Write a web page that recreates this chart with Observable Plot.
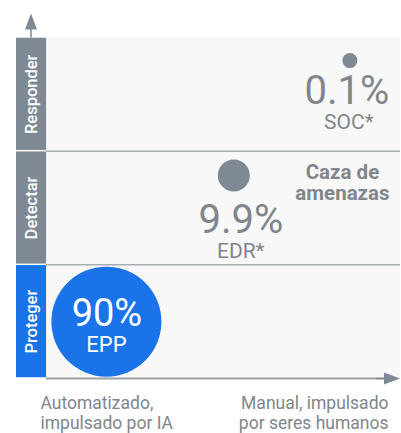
<!DOCTYPE html>
<html><head><meta charset="utf-8">
<script src="https://cdn.jsdelivr.net/npm/d3@7"></script>
<script src="https://cdn.jsdelivr.net/npm/@observablehq/plot@0.6"></script>
<style>
html,body{margin:0;padding:0;background:#fff;}
#chart svg{display:block;}
</style></head><body><div id="chart"></div>
<script>
// ---- data ----
const stages = ["Proteger", "Detectar", "Responder"];          // bottom to top
const products = ["EPP", "EDR*", "SOC*"];
const shares = [90, 9.9, 0.1];
const shareLabels = ["90%", "9.9%", "0.1%"];
const automation = [16.9, 52.9, 85.7];                          // 0 = automatizado … 100 = manual
const stageLevel = [0.5, 1.786, 2.797];                         // position on the stage axis
const annotationText = ["Caza de\namenazas"];
const annotationX = [83.6];
const annotationY = [1.57];
const axisLabels = ["Automatizado,\nimpulsado por IA", "Manual, impulsado\npor seres humanos"];

// ---- layout / style ----
const xDomain = [-8.5, 100];
const yDomain = [0, 3];
const bandMid = xDomain[0] / 2;
const BLUE = "#1a73e8", GRAY = "#7f8993", TEXT = "#80868b";
const stageFill = s => s === "Proteger" ? BLUE : GRAY;

const bubbles = products.map((p, i) => ({
  product: p, share: shares[i], label: shareLabels[i],
  x: automation[i], y: stageLevel[i], stage: stages[Math.floor(stageLevel[i])]
}));
const bands = stages.map((s, i) => ({stage: s, y1: i, y2: i + 1}));
const annotations = annotationText.map((t, i) => ({text: t, x: annotationX[i], y: annotationY[i]}));

const labelLayout = {
  "EPP":  {inside: true, valueDx: 0.5, valueDy: 4, nameDx: 0, nameDy: 30},
  "EDR*": {inside: false, valueDx: 7, valueDy: 58, nameDx: 7, nameDy: 83},
  "SOC*": {inside: false, valueDx: -3, valueDy: 43, nameDx: -1, nameDy: 68}
};

const arrowSymbol = {
  draw(ctx, size) {
    const r = Math.sqrt(size / Math.PI);
    ctx.moveTo(0, 0);
    ctx.lineTo(r, r * 2.67);
    ctx.lineTo(-r, r * 2.67);
    ctx.closePath();
    ctx.rect(-0.75, r * 2.67 - 0.5, 1.5, r * 1.33 + 0.5);
  }
};

const chart = Plot.plot({
  width: 401, height: 433,
  marginLeft: 16, marginRight: 1, marginTop: 37, marginBottom: 55,
  style: {fontFamily: "Roboto, 'Noto Sans', sans-serif", background: "#fff"},
  x: {domain: xDomain, axis: null},
  y: {domain: yDomain, axis: null},
  r: {type: "linear", domain: [0.1, 9.9, 90], range: [7.5, 16, 55]},
  marks: [
    Plot.rect([0], {x1: () => 0, x2: () => xDomain[1], y1: () => yDomain[0], y2: () => yDomain[1], fill: "#f8f8f8"}),
    Plot.rect(bands, {x1: () => xDomain[0], x2: () => 0, y1: "y1", y2: "y2", fill: d => stageFill(d.stage), insetTop: 0.75, insetBottom: 0.75}),
    Plot.ruleY([1, 2], {x1: () => 0, x2: () => xDomain[1], stroke: "#a9aeb3", strokeWidth: 1.5}),
    Plot.ruleY([yDomain[0]], {x1: () => 0, x2: () => xDomain[1], insetRight: 12, stroke: "#9aa0a6", strokeWidth: 2}),
    Plot.dot([0], {frameAnchor: "top-left", dx: 14.5, dy: -24, symbol: arrowSymbol, r: 6, fill: GRAY}),
    Plot.dot([0], {frameAnchor: "bottom-right", dx: -0.5, dy: 0, rotate: 90, symbol: arrowSymbol, r: 6, fill: GRAY}),
    Plot.text(bands, {x: () => bandMid, y: d => (d.y1 + d.y2) / 2, text: "stage", rotate: -90, fill: "white", fontSize: 16.5, fontWeight: 500}),
    Plot.dot(bubbles, {x: "x", y: "y", r: "share", fill: d => stageFill(d.stage)}),
    ...bubbles.flatMap(b => {
      const L = labelLayout[b.product];
      const fill = L.inside ? "white" : TEXT;
      return [
        Plot.text([b], {x: "x", y: "y", text: "label", dx: L.valueDx, dy: L.valueDy, lineAnchor: "bottom", fill, fontSize: L.inside ? 38 : 40}),
        Plot.text([b], {x: "x", y: "y", text: "product", dx: L.nameDx, dy: L.nameDy, lineAnchor: "bottom", fill, fontSize: L.inside ? 22 : 21})
      ];
    }),
    Plot.text(annotations, {x: "x", y: "y", text: "text", lineAnchor: "bottom", fontWeight: 700, fontSize: 20.5, fill: TEXT, lineHeight: 21.5 / 20.5}),
    Plot.text([axisLabels[0]], {frameAnchor: "bottom-left", text: d => d, textAnchor: "start", lineAnchor: "bottom", dx: 24, dy: 50, fontSize: 17.5, fill: TEXT, lineHeight: 20 / 17.5}),
    Plot.text([axisLabels[1]], {frameAnchor: "bottom-right", text: d => d, textAnchor: "end", lineAnchor: "bottom", dx: -12, dy: 50, fontSize: 17.5, fill: TEXT, lineHeight: 20 / 17.5})
  ]
});
document.getElementById("chart").appendChild(chart);
</script>
</body></html>
